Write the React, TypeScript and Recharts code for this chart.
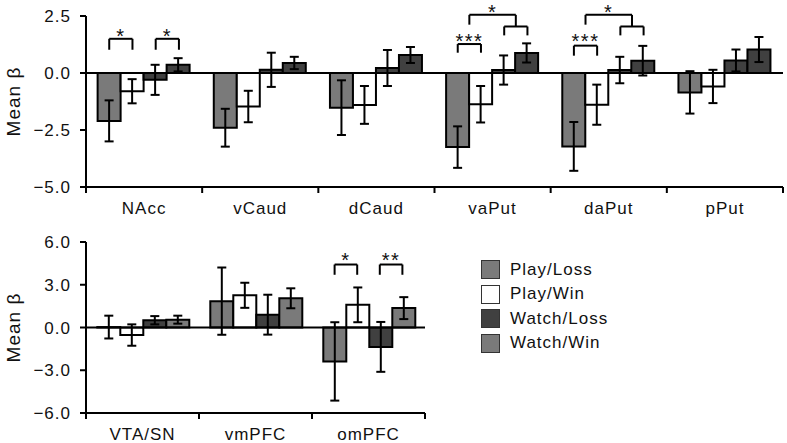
import React from "react";
import { Bar, BarChart, ErrorBar, ReferenceDot, ReferenceLine, XAxis, YAxis } from "recharts";

const seriesNames = ["Play/Loss", "Play/Win", "Watch/Loss", "Watch/Win"];
const GRAY = "#7a7a7a";
const DARK = "#404040";
const WHITE = "#ffffff";
const topFills = [GRAY, WHITE, DARK, DARK];
const bottomFills = [GRAY, WHITE, DARK, GRAY];
const legendFills = [GRAY, WHITE, DARK, GRAY];

// striatum ROIs
const topRegions = ["NAcc", "vCaud", "dCaud", "vaPut", "daPut", "pPut"];
const topPlayLoss = [-2.1, -2.4, -1.52, -3.25, -3.22, -0.85];
const topPlayLossErr = [0.9, 0.83, 1.2, 0.91, 1.07, 0.93];
const topPlayWin = [-0.8, -1.47, -1.4, -1.37, -1.39, -0.59];
const topPlayWinErr = [0.53, 0.69, 0.83, 0.8, 0.88, 0.73];
const topWatchLoss = [-0.3, 0.14, 0.22, 0.13, 0.13, 0.55];
const topWatchLossErr = [0.66, 0.75, 0.79, 0.64, 0.58, 0.48];
const topWatchWin = [0.36, 0.44, 0.79, 0.88, 0.54, 1.03];
const topWatchWinErr = [0.29, 0.27, 0.35, 0.42, 0.65, 0.55];
const topTicks = [-5, -2.5, 0, 2.5];

// midbrain / PFC ROIs
const bottomRegions = ["VTA/SN", "vmPFC", "omPFC"];
const botPlayLoss = [0.03, 1.85, -2.38];
const botPlayLossErr = [0.8, 2.36, 2.75];
const botPlayWin = [-0.53, 2.26, 1.59];
const botPlayWinErr = [0.75, 0.88, 1.22];
const botWatchLoss = [0.51, 0.9, -1.36];
const botWatchLossErr = [0.29, 1.4, 1.75];
const botWatchWin = [0.55, 2.05, 1.36];
const botWatchWinErr = [0.28, 0.7, 0.77];
const bottomTicks = [-6, -3, 0, 3, 6];

type Bracket = { cat: number; from: number; to: number; top: number; left: number; right: number; text: string; textAt: number };

const topBrackets: Bracket[] = [
  { cat: 0, from: 0, to: 1, top: 1.5, left: 1.02, right: 1.02, text: "*", textAt: 1.82 },
  { cat: 0, from: 2, to: 3, top: 1.5, left: 1.02, right: 1.02, text: "*", textAt: 1.82 },
  { cat: 3, from: 0, to: 1, top: 1.27, left: 0.89, right: 0.89, text: "***", textAt: 1.59 },
  { cat: 3, from: 2, to: 3, top: 2.04, left: 1.65, right: 1.65, text: "", textAt: 0 },
  { cat: 3, from: 0.5, to: 2.5, top: 2.55, left: 2.12, right: 2.04, text: "*", textAt: 2.86 },
  { cat: 4, from: 0, to: 1, top: 1.2, left: 0.76, right: 0.76, text: "***", textAt: 1.59 },
  { cat: 4, from: 2, to: 3, top: 2.04, left: 1.65, right: 1.65, text: "", textAt: 0 },
  { cat: 4, from: 0.5, to: 2.5, top: 2.55, left: 2.12, right: 2.04, text: "*", textAt: 2.86 }
];

const bottomBrackets: Bracket[] = [
  { cat: 2, from: 0, to: 1, top: 4.42, left: 3.7, right: 3.7, text: "*", textAt: 5.05 },
  { cat: 2, from: 2, to: 3, top: 4.42, left: 3.7, right: 3.7, text: "**", textAt: 5.05 }
];

const FONT = "'Liberation Sans', Arial, sans-serif";
const textStyle = { fontFamily: FONT, fontSize: 17, letterSpacing: 1, fill: "#111" };
const starStyle = { fontFamily: FONT, fontSize: 20, letterSpacing: 1.5, fill: "#111" };

function buildRows(regions: string[], cols: number[][]) {
  return regions.map((region, i) => ({
    region,
    pos: i + 0.5,
    pl: cols[0][i], plErr: cols[1][i],
    pw: cols[2][i], pwErr: cols[3][i],
    wl: cols[4][i], wlErr: cols[5][i],
    ww: cols[6][i], wwErr: cols[7][i]
  }));
}

const topRows = buildRows(topRegions, [topPlayLoss, topPlayLossErr, topPlayWin, topPlayWinErr, topWatchLoss, topWatchLossErr, topWatchWin, topWatchWinErr]);
const bottomRows = buildRows(bottomRegions, [botPlayLoss, botPlayLossErr, botPlayWin, botPlayWinErr, botWatchLoss, botWatchLossErr, botWatchWin, botWatchWinErr]);

const fmt = (v: number) => (v < 0 ? "\u2212" : "") + Math.abs(v).toFixed(1);

function CategoryTick(props: any) {
  const { x, y, payload, index, visibleTicksCount } = props;
  const half = payload.offset ?? 0;
  const last = index === visibleTicksCount - 1;
  return (
    <g>
      <line x1={x - half} x2={x - half} y1={y} y2={y + 6} stroke="#000" strokeWidth={2} />
      {last && <line x1={x + half} x2={x + half} y1={y} y2={y + 6} stroke="#000" strokeWidth={2} />}
      <text x={x} y={y + 27} textAnchor="middle" style={textStyle}>{payload.value}</text>
    </g>
  );
}

function YTitle(props: any) {
  const vb = props.viewBox || { x: 0, y: 0, height: 0 };
  const cx = vb.x + 13;
  const cy = vb.y + vb.height / 2;
  return (
    <text x={cx} y={cy} transform={`rotate(-90 ${cx} ${cy})`} textAnchor="middle" dominantBaseline="central"
      style={{ ...textStyle, fontSize: 19 }}>
      Mean {"\u03b2"}
    </text>
  );
}

function slot(cat: number, pos: number) {
  // bar centres on the hidden numeric axis (10% category gap, 4 bars of 20%)
  return cat + 0.2 + 0.2 * pos;
}

function brackets(list: Bracket[]) {
  const out: React.ReactElement[] = [];
  list.forEach((b, i) => {
    const x1 = slot(b.cat, b.from);
    const x2 = slot(b.cat, b.to);
    const common = { xAxisId: "num", stroke: "#000", strokeWidth: 2, ifOverflow: "visible" as const };
    out.push(<ReferenceLine key={`t${i}`} {...common} segment={[{ x: x1, y: b.top }, { x: x2, y: b.top }]} />);
    out.push(<ReferenceLine key={`l${i}`} {...common} segment={[{ x: x1, y: b.top }, { x: x1, y: b.left }]} />);
    out.push(<ReferenceLine key={`r${i}`} {...common} segment={[{ x: x2, y: b.top }, { x: x2, y: b.right }]} />);
    if (b.text) {
      out.push(
        <ReferenceDot
          key={`s${i}`}
          xAxisId="num"
          x={(x1 + x2) / 2}
          y={b.textAt}
          ifOverflow="visible"
          shape={(p: any) => (
            <text x={p.cx} y={p.cy + 11.5} textAnchor="middle" style={starStyle}>{b.text}</text>
          )}
        />
      );
    }
  });
  return out;
}

function Panel({ rows, fills, ticks, list, width, height, top, margin }: any) {
  const n = rows.length;
  return (
    <div style={{ position: "absolute", left: 0, top }}>
      <BarChart width={width} height={height} data={rows} margin={margin} barCategoryGap="10%" barGap={0}>
        <XAxis
          xAxisId="cat"
          dataKey="region"
          axisLine={{ stroke: "#000", strokeWidth: 2 }}
          tickLine={false}
          tickSize={0}
          tickMargin={0}
          height={30}
          interval={0}
          tick={<CategoryTick />}
        />
        <XAxis xAxisId="num" dataKey="pos" type="number" domain={[0, n]} allowDataOverflow hide />
        <YAxis
          width={86}
          domain={[ticks[0], ticks[ticks.length - 1]]}
          ticks={ticks}
          tickFormatter={fmt}
          interval={0}
          axisLine={{ stroke: "#000", strokeWidth: 2 }}
          tickLine={{ stroke: "#000", strokeWidth: 2 }}
          tickSize={6}
          tickMargin={9}
          tick={{ ...textStyle }}
          label={<YTitle />}
        />
        {["pl", "pw", "wl", "ww"].map((k, i) => (
          <Bar key={k} xAxisId="cat" dataKey={k} name={seriesNames[i]} fill={fills[i]} stroke="#000" strokeWidth={2} isAnimationActive={false}>
            <ErrorBar dataKey={`${k}Err`} width={4.5} stroke="#000" strokeWidth={2} direction="y" />
          </Bar>
        ))}
        <ReferenceLine xAxisId="cat" y={0} stroke="#000" strokeWidth={2} />
        {brackets(list)}
      </BarChart>
    </div>
  );
}

export default function App() {
  return (
    <div style={{ position: "absolute", left: 0, top: 0, width: 787, height: 443, background: "#fff", overflow: "hidden" }}>
      <Panel rows={topRows} fills={topFills} ticks={topTicks} list={topBrackets} width={787} height={230} top={0}
        margin={{ top: 16, right: 4, bottom: 13, left: 0 }} />
      <Panel rows={bottomRows} fills={bottomFills} ticks={bottomTicks} list={bottomBrackets} width={430} height={218} top={225}
        margin={{ top: 17, right: 5, bottom: 0, left: 0 }} />
      <div style={{ position: "absolute", left: 481, top: 260, fontFamily: FONT, fontSize: 17, letterSpacing: 1, color: "#111" }}>
        {seriesNames.map((name, i) => (
          <div key={name} style={{ display: "flex", alignItems: "center", height: 19, marginBottom: 5.5 }}>
            <div style={{ width: 17, height: 17, background: legendFills[i], border: "1px solid #333", marginRight: 10 }} />
            <span>{name}</span>
          </div>
        ))}
      </div>
    </div>
  );
}
